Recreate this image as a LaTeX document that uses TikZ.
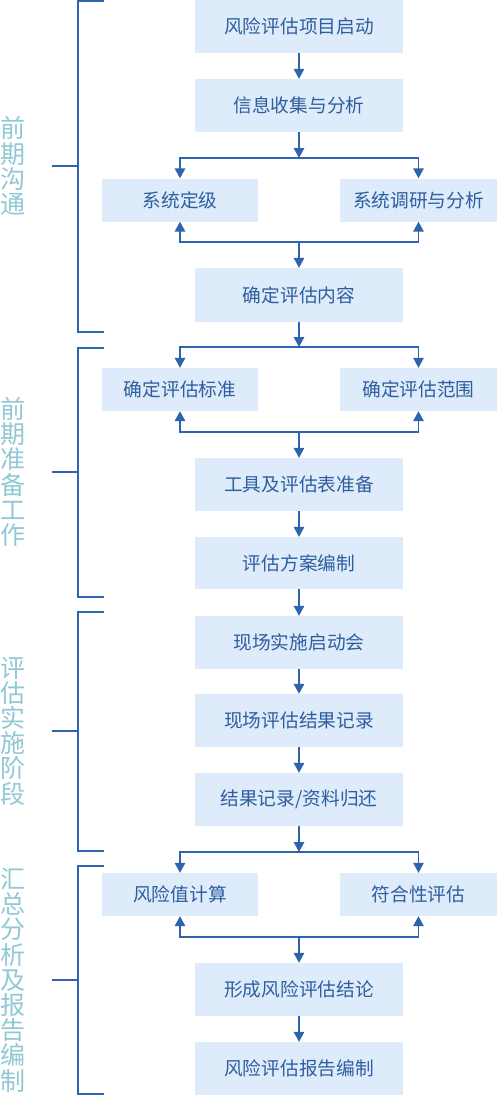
\documentclass[tikz,border=0pt]{standalone}
\usepackage{fontspec}
\newfontfamily\cjk{Noto Sans CJK SC}
\usetikzlibrary{arrows.meta}
\definecolor{boxfill}{HTML}{DDEBFA}
\definecolor{linec}{HTML}{2E63AD}
\definecolor{txtc}{HTML}{2F5E9F}
\definecolor{phasec}{HTML}{90C8D5}
\tikzset{
  mainbox/.style={fill=boxfill, draw=none, minimum width=208pt, minimum height=53pt, inner sep=0pt,
    font=\cjk\fontsize{18.7}{21}\selectfont, text=txtc},
  sidebox/.style={fill=boxfill, draw=none, minimum width=156pt, minimum height=43pt, inner sep=0pt,
    font=\cjk\fontsize{18.7}{21}\selectfont, text=txtc},
  flow/.style={draw=linec, line width=1.4pt, -{Triangle[width=10.5pt,length=10pt]}},
  brace/.style={draw=linec, line width=1.3pt},
  phase/.style={align=center, inner sep=0pt, text=phasec, font=\cjk\fontsize{25}{25.2}\selectfont}
}
\begin{document}
\begin{tikzpicture}[x=1pt,y=-1pt]
\useasboundingbox (0,0) rectangle (497,1095);
% main column
\node[mainbox] (b1) at (299,26.5) {风险评估项目启动};
\node[mainbox] (b2) at (299,105.5) {信息收集与分析};
\node[sidebox] (s1l) at (180,200) {系统定级};
\node[sidebox, minimum width=157pt] (s1r) at (418.5,200) {系统调研与分析};
\node[mainbox, minimum height=54pt] (b3) at (299,295) {确定评估内容};
\node[sidebox] (s2l) at (180,389.5) {确定评估标准};
\node[sidebox, minimum width=157pt] (s2r) at (418.5,389.5) {确定评估范围};
\node[mainbox] (b4) at (299,484.5) {工具及评估表准备};
\node[mainbox, minimum height=52pt] (b5) at (299,563) {评估方案编制};
\node[mainbox] (b6) at (299,642.5) {现场实施启动会};
\node[mainbox] (b7) at (299,720.5) {现场评估结果记录};
\node[mainbox] (b8) at (299,799.5) {结果记录/资料归还};
\node[sidebox] (s3l) at (180,894.5) {风险值计算};
\node[sidebox, minimum width=157pt] (s3r) at (418.5,894.5) {符合性评估};
\node[mainbox] (b9) at (299,989.5) {形成风险评估结论};
\node[mainbox] (b10) at (299,1068.5) {风险评估报告编制};
% junctions
\coordinate (j1) at (299,158);
\coordinate (j2) at (299,242);
\coordinate (j3) at (299,347);
\coordinate (j4) at (299,432);
\coordinate (j5) at (299,852);
\coordinate (j6) at (299,937);
% connectors
\draw[flow] (b1) -- (b2);
\draw[flow] (b2) -- (j1);
\draw[flow] (j1) -| (s1l.north);
\draw[flow] (j1) -| (s1r.north);
\draw[flow] (j2) -| (s1l.south);
\draw[flow] (j2) -| (s1r.south);
\draw[flow] (j2) -- (b3);
\draw[flow] (b3) -- (j3);
\draw[flow] (j3) -| (s2l.north);
\draw[flow] (j3) -| (s2r.north);
\draw[flow] (j4) -| (s2l.south);
\draw[flow] (j4) -| (s2r.south);
\draw[flow] (j4) -- (b4);
\draw[flow] (b4) -- (b5);
\draw[flow] (b5) -- (b6);
\draw[flow] (b6) -- (b7);
\draw[flow] (b7) -- (b8);
\draw[flow] (b8) -- (j5);
\draw[flow] (j5) -| (s3l.north);
\draw[flow] (j5) -| (s3r.north);
\draw[flow] (j6) -| (s3l.south);
\draw[flow] (j6) -| (s3r.south);
\draw[flow] (j6) -- (b9);
\draw[flow] (b9) -- (b10);
% brackets
\draw[brace] (104,1) -- (78,1) -- (78,332) -- (104,332);
\draw[brace] (52,166) -- (78,166);
\draw[brace] (104,348) -- (78,348) -- (78,597) -- (104,597);
\draw[brace] (52,472) -- (78,472);
\draw[brace] (104,612) -- (78,612) -- (78,851) -- (104,851);
\draw[brace] (52,731) -- (78,731);
\draw[brace] (104,866) -- (78,866) -- (78,1094) -- (104,1094);
\draw[brace] (52,980) -- (78,980);
% phase labels
\node[phase] (p1) at (13,166) {前\\期\\沟\\通};
\node[phase] (p2) at (13,472) {前\\期\\准\\备\\工\\作};
\node[phase] (p3) at (13,731) {评\\估\\实\\施\\阶\\段};
\node[phase] (p4) at (13,980) {汇\\总\\分\\析\\及\\报\\告\\编\\制};
\end{tikzpicture}
\end{document}
